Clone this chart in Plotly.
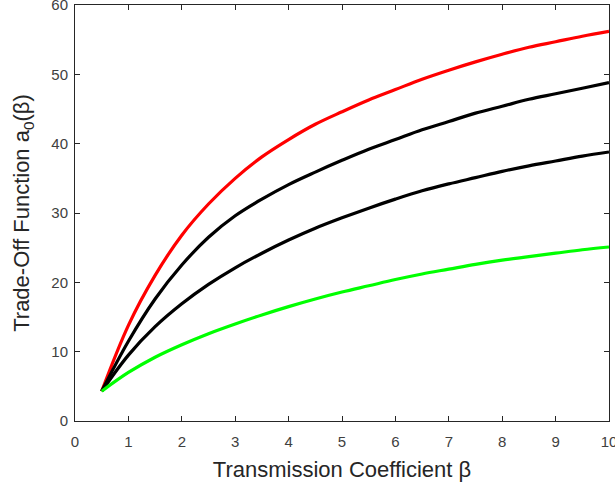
import plotly.graph_objects as go

beta = [0.5, 1, 1.5, 2, 2.5, 3, 3.5, 4, 4.5, 5, 5.5, 6, 6.5, 7, 7.5, 8, 8.5, 9, 9.5, 10]
red_vals = [4.3, 13.8, 21.0, 26.8, 31.3, 35.0, 38.1, 40.6, 42.8, 44.6, 46.3, 47.8, 49.3,
            50.6, 51.8, 52.9, 53.9, 54.7, 55.5, 56.2]
black_upper = [4.3, 11.5, 17.6, 22.5, 26.5, 29.6, 32.0, 34.1, 35.9, 37.6, 39.2, 40.6, 42.0,
               43.2, 44.4, 45.4, 46.4, 47.2, 48.0, 48.8]
black_lower = [4.3, 9.5, 13.6, 16.9, 19.7, 22.1, 24.2, 26.1, 27.8, 29.3, 30.7, 32.0, 33.2,
               34.2, 35.1, 36.0, 36.8, 37.5, 38.2, 38.8]
green_vals = [4.3, 7.0, 9.2, 11.0, 12.6, 14.0, 15.3, 16.5, 17.6, 18.6, 19.5, 20.4, 21.2,
              21.9, 22.6, 23.2, 23.7, 24.2, 24.7, 25.1]

x_ticks = list(range(0, 11))
y_ticks = [0, 10, 20, 30, 40, 50, 60]

fig = go.Figure()
for vals, col in [(red_vals, "#ff0000"), (black_upper, "#000000"),
                  (black_lower, "#000000"), (green_vals, "#00ff00")]:
    fig.add_trace(go.Scatter(x=beta, y=vals, mode="lines",
                             line=dict(color=col, width=3.2, shape="spline"),
                             showlegend=False, hoverinfo="skip"))

FONT = "Liberation Sans, Arial"
axis_common = dict(showline=True, linecolor="#262626", linewidth=1, mirror="ticks",
                   ticks="inside", ticklen=5, tickcolor="#262626", showgrid=False,
                   zeroline=False, automargin=False, ticklabeloverflow="allow",
                   tickfont=dict(family=FONT, size=15, color="#404040"))

fig.update_layout(
    width=615, height=485,
    margin=dict(l=75, r=6, t=5, b=64),
    paper_bgcolor="white", plot_bgcolor="white",
    xaxis=dict(range=[0, 10], tickvals=x_ticks, ticklabelstandoff=7,
               title=dict(text="Transmission Coefficient β",
                          font=dict(family=FONT, size=22, color="#262626"),
                          standoff=12),
               **axis_common),
    yaxis=dict(range=[0, 60], tickvals=y_ticks, ticklabelstandoff=3,
               title=dict(text="Trade-Off Function a<sub>0</sub>(β)",
                          font=dict(family=FONT, size=22, color="#262626"),
                          standoff=15),
               **axis_common),
)

fig.write_html("out.html",
               config={"displayModeBar": False},
               post_script="document.body.style.margin='0';document.body.style.overflow='hidden';")
